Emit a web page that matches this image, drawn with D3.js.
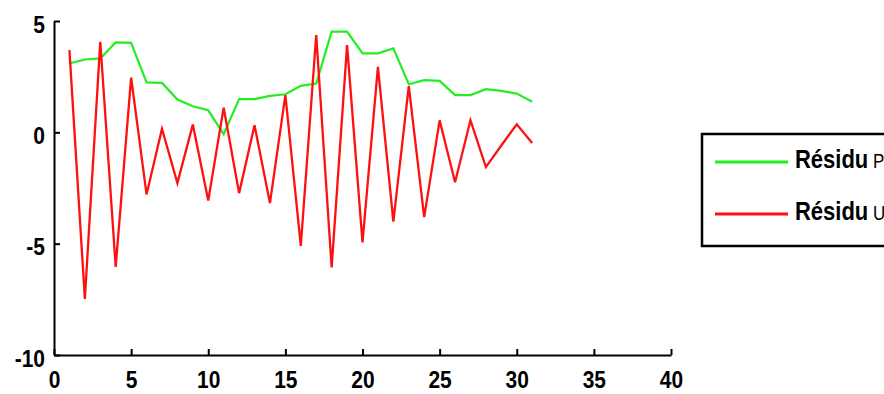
<!DOCTYPE html>
<html>
<head>
<meta charset="utf-8">
<script src="https://d3js.org/d3.v7.min.js"></script>
<style>
body{margin:0;background:#fff;}
svg{display:block;}
.tick text{font-family:"Liberation Sans",Arial,sans-serif;font-weight:bold;font-size:21px;fill:#000;}
</style>
</head>
<body>
<div id="chart"></div>
<script>
// x positions of the points
var xs = [1,2,3,4,5,6,7,8,9,10,11,12,13,14,15,16,17,18,19,20,21,22,23,24,25,26,27,28,29,30,31];
// green series
var residuP = [3.09,3.27,3.32,4.04,4.02,2.24,2.22,1.47,1.17,0.99,-0.08,1.49,1.49,1.64,1.71,2.09,2.19,4.52,4.52,3.55,3.55,3.77,2.16,2.34,2.31,1.67,1.67,1.94,1.86,1.74,1.37];
// red series
var residuU = [3.69,-7.48,4.07,-6.04,2.46,-2.79,0.16,-2.28,0.35,-3.06,1.11,-2.73,0.32,-3.18,1.67,-5.1,4.37,-6.07,3.92,-4.94,2.94,-4.01,2.07,-3.81,0.54,-2.24,0.54,-1.56,-0.59,0.36,-0.48];
var xTicks = [0,5,10,15,20,25,30,35,40];
var yTicks = [-10,-5,0,5];
var legendNames = ["Résidu", "Résidu"];
var legendTags = ["P", "U"];
var colors = ["#22ee22", "#ff1010"];

var width = 884, height = 394;
var stretch = 1.15; // text in the picture is a bit taller than it is wide

var svg = d3.select("#chart").append("svg")
    .attr("width", width)
    .attr("height", height);

var x = d3.scaleLinear().domain([0, 40]).range([54, 671]);
var y = d3.scaleLinear().domain([-10, 5]).range([355, 21]);

var fmt = function(d){ return String(d); }; // plain hyphen minus

var xAxis = svg.append("g")
    .attr("transform", "translate(0," + y(-10) + ")")
    .call(d3.axisBottom(x).tickValues(xTicks).tickFormat(fmt).tickSize(-6).tickSizeOuter(0));
var yAxis = svg.append("g")
    .attr("transform", "translate(" + x(0) + ",0)")
    .call(d3.axisLeft(y).tickValues(yTicks).tickFormat(fmt).tickSize(-6).tickSizeOuter(0));

[xAxis, yAxis].forEach(function(a){
    a.select(".domain").attr("stroke", "#000").attr("stroke-width", 2);
    a.selectAll(".tick line").attr("stroke", "#000").attr("stroke-width", 2);
});
xAxis.selectAll(".tick text")
    .attr("y", 0).attr("dy", null)
    .attr("transform", "translate(0,33) scale(1," + stretch + ")");
yAxis.selectAll(".tick text")
    .attr("x", 0).attr("dy", null)
    .attr("transform", "translate(-9,11) scale(1," + stretch + ")");

var line = d3.line()
    .x(function(d, i){ return x(xs[i]); })
    .y(function(d){ return y(d); });

svg.append("path").datum(residuP)
    .attr("fill", "none").attr("stroke", colors[0]).attr("stroke-width", 2.2)
    .attr("d", line);
svg.append("path").datum(residuU)
    .attr("fill", "none").attr("stroke", colors[1]).attr("stroke-width", 2.3)
    .attr("d", line);

// legend (runs off the right edge like the original)
var leg = svg.append("g");
leg.append("rect")
    .attr("x", 702).attr("y", 134)
    .attr("width", 260).attr("height", 112)
    .attr("fill", "#fff").attr("stroke", "#000").attr("stroke-width", 2.5);

legendNames.forEach(function(name, i){
    var ly = 162 + i * 52;
    leg.append("line")
        .attr("x1", 715).attr("x2", 788)
        .attr("y1", ly).attr("y2", ly)
        .attr("stroke", colors[i]).attr("stroke-width", 3);
    var t = leg.append("text")
        .attr("transform", "translate(795," + (ly + 6) + ") scale(1," + stretch + ")")
        .style("font-family", "Liberation Sans, Arial, sans-serif")
        .style("fill", "#000");
    t.append("tspan").text(name)
        .style("font-weight", "bold").style("font-size", "22px");
    t.append("tspan").text(" " + legendTags[i])
        .style("font-size", "17px");
});
</script>
</body>
</html>
